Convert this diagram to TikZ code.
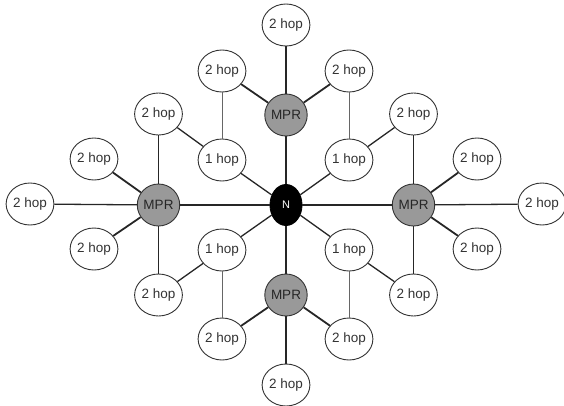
\documentclass[tikz,border=0pt]{standalone}
\usepackage{fontspec}
\setmainfont{Liberation Sans}
\usetikzlibrary{shapes.geometric}
\begin{document}
\begin{tikzpicture}[x=1pt,y=1pt,
  hop/.style={ellipse, draw=black!80, line width=0.9pt, fill=white,
    minimum width=34pt, minimum height=42pt, inner sep=0pt,
    text=black!80, font=\fontsize{13.5}{14}\selectfont},
  mpr/.style={hop, fill=black!40, text=black!85},
  center/.style={hop, fill=black, draw=black, text=white, minimum width=32pt, minimum height=41pt, font=\fontsize{11}{12}\selectfont},
  link/.style={line width=1.3pt, black!85},
  heavy/.style={line width=1.8pt, black!85},
  lite/.style={line width=0.8pt, black!60}]
\useasboundingbox (-286,-200) rectangle (278,205);
% centre
\node[center] (N) at (0,0) {N};
% MPRs
\node[mpr] (mt) at (0,90) {MPR};
\node[mpr] (mb) at (0,-90) {MPR};
\node[mpr] (ml) at (-127.5,0) {MPR};
\node[mpr] (mr) at (127.5,0) {MPR};
% 1 hop
\node[hop] (oul) at (-64,45) {1 hop};
\node[hop] (our) at (63,45) {1 hop};
\node[hop] (oll) at (-64,-45) {1 hop};
\node[hop] (olr) at (63,-45) {1 hop};
% 2 hop of top MPR
\node[hop] (tt) at (0,180) {2 hop};
\node[hop] (tl) at (-64,134) {2 hop};
\node[hop] (tr) at (63,134) {2 hop};
% 2 hop of bottom MPR
\node[hop] (bb) at (0,-180) {2 hop};
\node[hop] (bl) at (-64,-134) {2 hop};
\node[hop] (br) at (63,-134) {2 hop};
% 2 hop of left MPR
\node[hop] (lu) at (-127.5,91) {2 hop};
\node[hop] (lmu) at (-192,46) {2 hop};
\node[hop] (ll) at (-256,1) {2 hop};
\node[hop] (lmd) at (-192,-44) {2 hop};
\node[hop] (ld) at (-127.5,-90) {2 hop};
% 2 hop of right MPR
\node[hop] (ru) at (127.5,91) {2 hop};
\node[hop] (rmu) at (191,46) {2 hop};
\node[hop] (rr) at (256,1) {2 hop};
\node[hop] (rmd) at (191,-44) {2 hop};
\node[hop] (rd) at (127.5,-90) {2 hop};
% N links
\foreach \t in {mt,mb,ml,mr,oul,our,oll,olr} \draw[link] (N) -- (\t);
% top MPR
\draw[link] (mt) -- (tt);
\draw[heavy] (mt) -- (tl);
\draw[heavy] (mt) -- (tr);
% bottom MPR
\draw[link] (mb) -- (bb);
\draw[heavy] (mb) -- (bl);
\draw[heavy] (mb) -- (br);
% left MPR
\draw[link] (ml) -- (lu);
\draw[heavy] (ml) -- (lmu);
\draw[link] (ml) -- (ll);
\draw[heavy] (ml) -- (lmd);
\draw[link] (ml) -- (ld);
% right MPR
\draw[link] (mr) -- (ru);
\draw[heavy] (mr) -- (rmu);
\draw[link] (mr) -- (rr);
\draw[heavy] (mr) -- (rmd);
\draw[link] (mr) -- (rd);
% 1 hop links
\draw[lite] (oul) -- (tl);
\draw[link] (oul) -- (lu);
\draw[lite] (our) -- (tr);
\draw[link] (our) -- (ru);
\draw[lite] (oll) -- (bl);
\draw[link] (oll) -- (ld);
\draw[lite] (olr) -- (br);
\draw[link] (olr) -- (rd);
\end{tikzpicture}
\end{document}
